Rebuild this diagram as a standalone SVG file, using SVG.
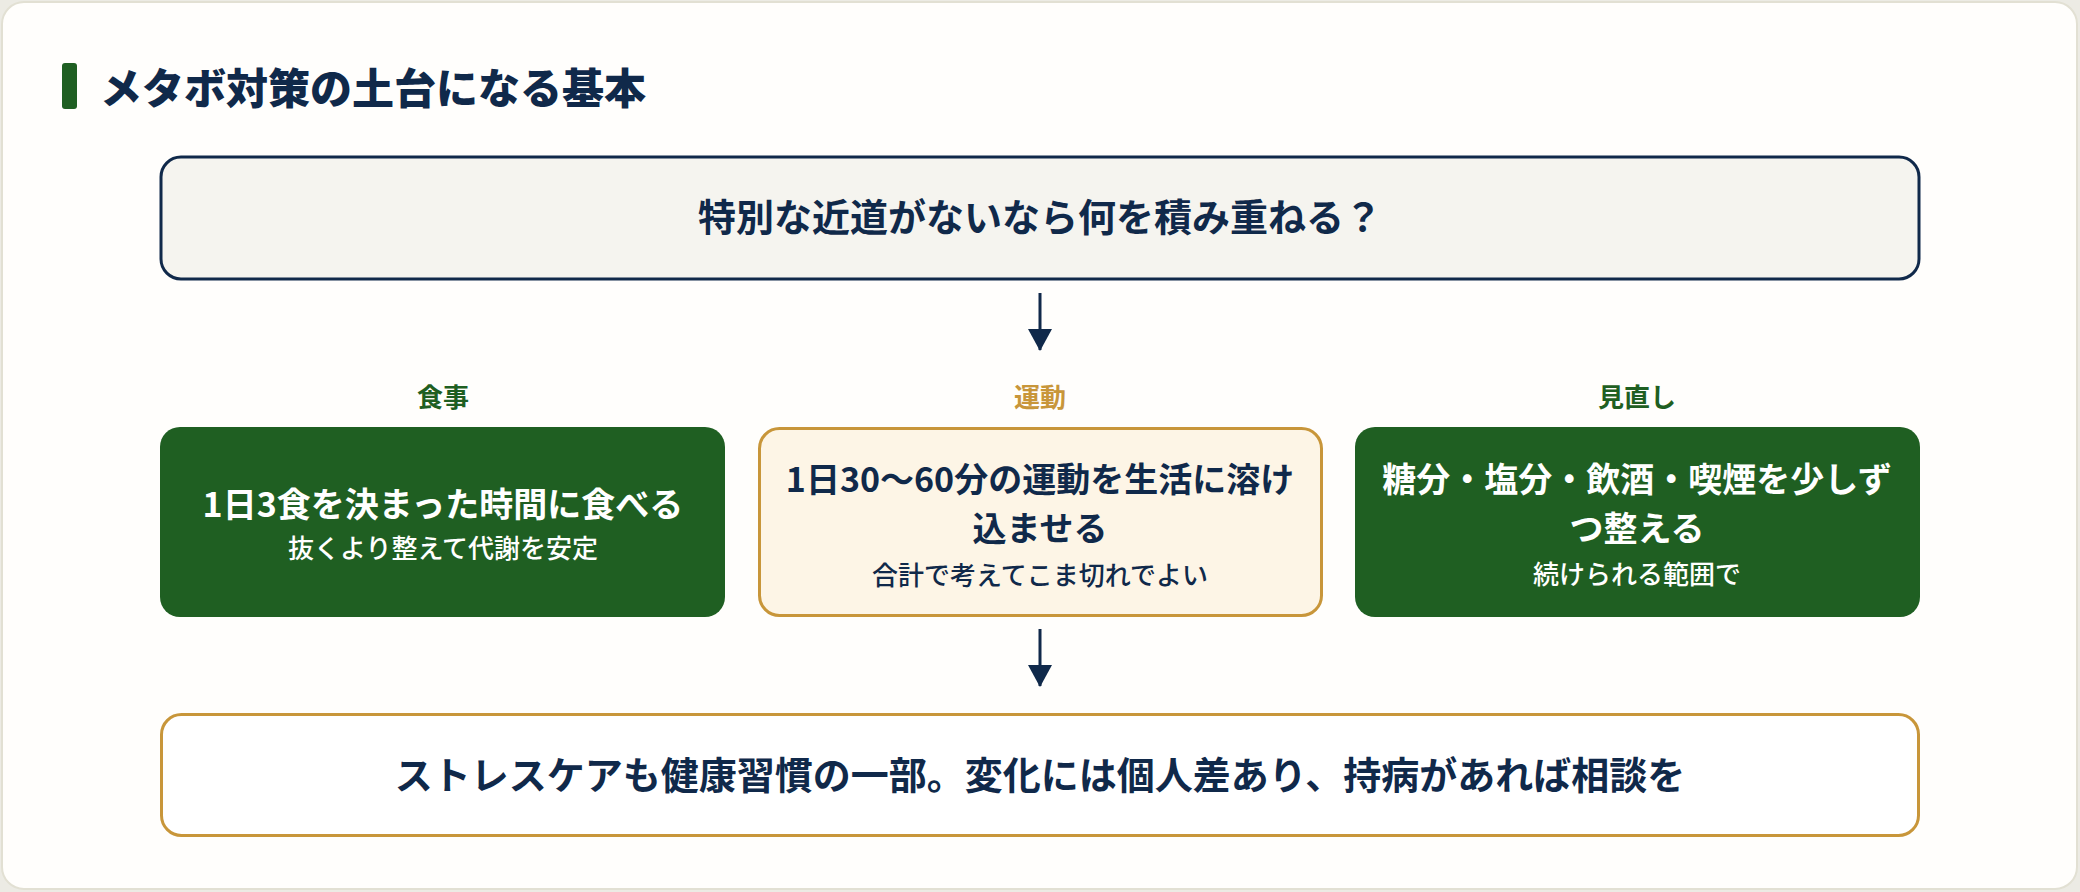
<svg xmlns="http://www.w3.org/2000/svg" width="2080" height="892" viewBox="0 0 2080 892">
<style>
.t{font-family:"Noto Sans CJK JP","Noto Sans",sans-serif;text-anchor:middle}
.title{font-family:"Noto Sans CJK JP","Noto Sans",sans-serif;font-weight:900;font-size:42px;fill:#10294a}
.big{font-weight:700;font-size:38px;fill:#10294a}
.lab{font-weight:700;font-size:26px}
.main{font-weight:700;font-size:34px}
.sub{font-weight:500;font-size:26px}
.w{fill:#ffffff}
.n{fill:#10294a}
.conn{stroke:#10294a;stroke-width:3;fill:none}
</style>
<defs>
<marker id="ah" viewBox="0 0 22 24" refX="21" refY="12" markerWidth="22" markerHeight="24" markerUnits="userSpaceOnUse" orient="auto">
<path d="M0,0 L22,12 L0,24 z" fill="#10294a"/>
</marker>
</defs>
<rect x="0" y="0" width="2080" height="892" fill="#ecebe4"/>
<rect x="2" y="2" width="2075" height="887" rx="22" fill="#fffefc" stroke="#e2e0d3" stroke-width="2"/>
<g id="header">
<rect x="62" y="63" width="15" height="46" rx="3" fill="#1f5f22"/>
<text class="title" x="100" y="104">メタボ対策の土台になる基本</text>
</g>
<g id="question">
<rect x="161" y="157" width="1758" height="122" rx="20" fill="#f5f4ef" stroke="#10294a" stroke-width="3"/>
<text class="t big" x="1040" y="231">特別な近道がないなら何を積み重ねる？</text>
</g>
<g id="meal">
<text class="t lab" x="443" y="407" fill="#1f5f22">食事</text>
<rect x="160" y="427" width="565" height="190" rx="20" fill="#1f5f22"/>
<text class="t main w" x="443" y="517">1日3食を決まった時間に食べる</text>
<text class="t sub w" x="443" y="558">抜くより整えて代謝を安定</text>
</g>
<g id="exercise">
<text class="t lab" x="1040" y="407" fill="#c8963a">運動</text>
<rect x="759.5" y="428.5" width="562" height="187" rx="20" fill="#fdf5e6" stroke="#c8963a" stroke-width="3"/>
<text class="t main n" x="1040" y="492">1日30〜60分の運動を生活に溶け</text>
<text class="t main n" x="1040" y="541">込ませる</text>
<text class="t sub n" x="1040" y="585">合計で考えてこま切れでよい</text>
</g>
<g id="review">
<text class="t lab" x="1637" y="407" fill="#1f5f22">見直し</text>
<rect x="1355" y="427" width="565" height="190" rx="20" fill="#1f5f22"/>
<text class="t main w" x="1637" y="492">糖分・塩分・飲酒・喫煙を少しず</text>
<text class="t main w" x="1637" y="541">つ整える</text>
<text class="t sub w" x="1637" y="584">続けられる範囲で</text>
</g>
<g id="conclusion">
<rect x="161.5" y="714.5" width="1757" height="121" rx="20" fill="#ffffff" stroke="#c8963a" stroke-width="3"/>
<text class="t big" x="1040" y="789">ストレスケアも健康習慣の一部。変化には個人差あり、持病があれば相談を</text>
</g>
<g id="connectors">
<line class="conn" x1="1040" y1="293" x2="1040" y2="350" marker-end="url(#ah)"/>
<line class="conn" x1="1040" y1="629" x2="1040" y2="686" marker-end="url(#ah)"/>
</g>
</svg>
